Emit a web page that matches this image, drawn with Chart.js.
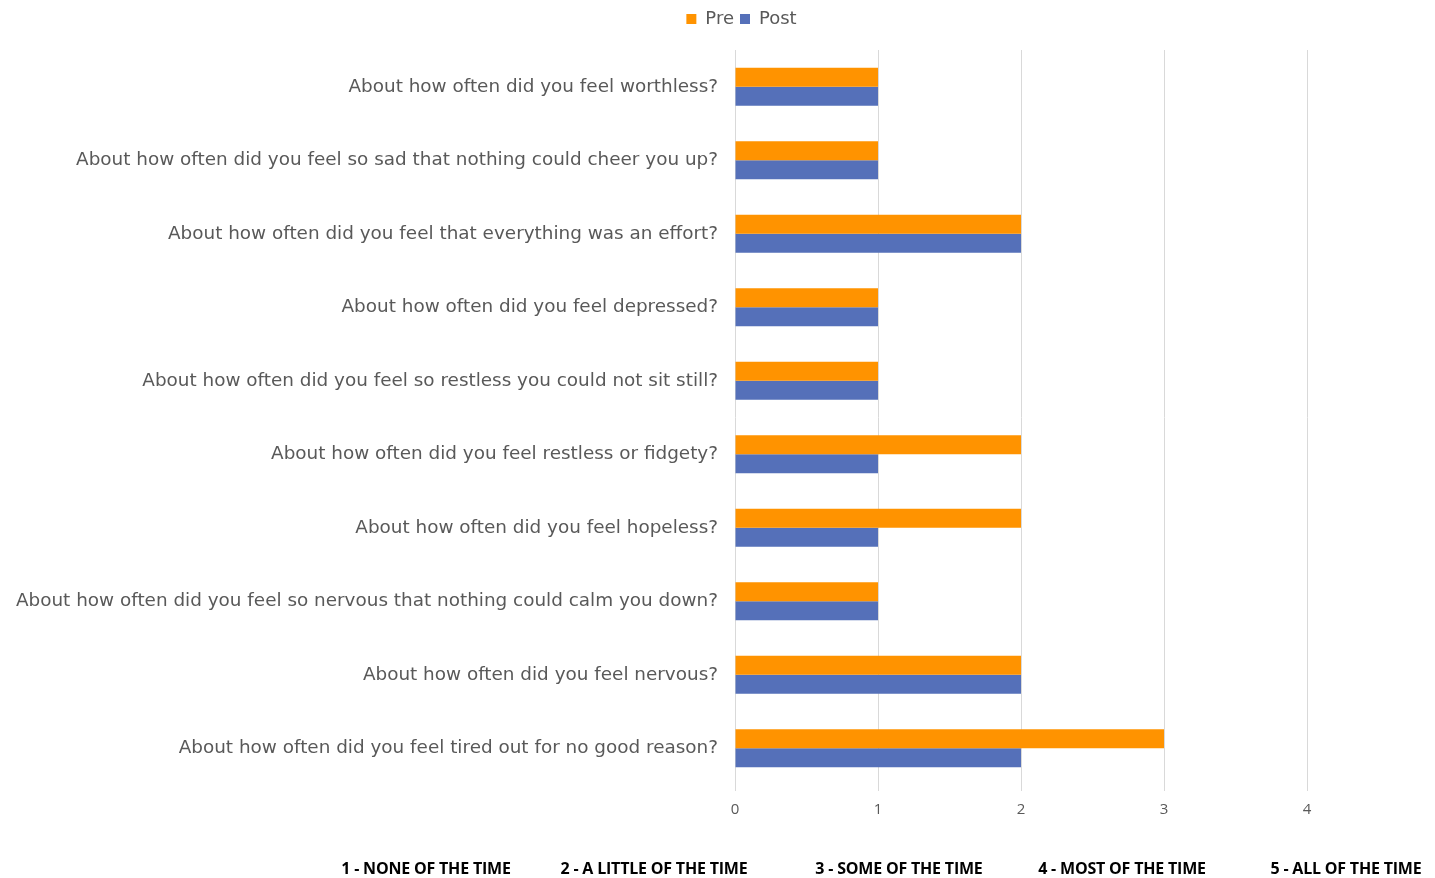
<!DOCTYPE html>
<html>
<head>
<meta charset="utf-8">
<script src="https://cdn.jsdelivr.net/npm/chart.js@4/dist/chart.umd.min.js"></script>
<style>
  html, body { margin: 0; padding: 0; background: #ffffff; }
  #wrap { position: relative; width: 1435px; height: 878px; }
  #c { position: absolute; left: 0; top: 0; }
  #scale-key { position: absolute; left: 0; top: 857px; width: 1435px; height: 21px; }
  #scale-key span {
    position: absolute; transform: translateX(-50%); white-space: nowrap;
    font-family: "Open Sans", sans-serif; font-weight: 700; font-size: 16px; color: #000;
    letter-spacing: -0.2px;
  }
</style>
</head>
<body>
<div id="wrap">
  <canvas id="c" width="1435" height="878"></canvas>
  <div id="scale-key"></div>
</div>
<script>
// Survey items, listed top to bottom
const questions = [
  "About how often did you feel worthless?",
  "About how often did you feel so sad that nothing could cheer you up?",
  "About how often did you feel that everything was an effort?",
  "About how often did you feel depressed?",
  "About how often did you feel so restless you could not sit still?",
  "About how often did you feel restless or fidgety?",
  "About how often did you feel hopeless?",
  "About how often did you feel so nervous that nothing could calm you down?",
  "About how often did you feel nervous?",
  "About how often did you feel tired out for no good reason?"
];
const preScores  = [1, 1, 2, 1, 1, 2, 2, 1, 2, 3];
const postScores = [1, 1, 2, 1, 1, 1, 1, 1, 2, 2];
const xTicks = [0, 1, 2, 3, 4];
const responseScale = [
  "1 - NONE OF THE TIME",
  "2 - A LITTLE OF THE TIME",
  "3 - SOME OF THE TIME",
  "4 - MOST OF THE TIME",
  "5 - ALL OF THE TIME"
];

// Response scale legend along the bottom
const keyCenters = [426, 654, 899, 1122, 1346];
const key = document.getElementById('scale-key');
responseScale.forEach((t, i) => {
  const s = document.createElement('span');
  s.textContent = t;
  s.style.left = keyCenters[i] + 'px';
  key.appendChild(s);
});

const grey = '#595959';

// Extra room under the legend, and the legend centred between
// the label column and the plot's right edge
const legendPlacement = {
  id: 'legendPlacement',
  beforeInit(chart) {
    const fit = chart.legend.fit;
    chart.legend.fit = function () {
      fit.bind(chart.legend)();
      this.height += 12;
    };
  },
  afterLayout(chart) {
    const lg = chart.legend;
    const w = lg.right - lg.left;
    const shift = 176;
    lg.left += shift;
    lg.right = lg.left + w - shift;
  }
};

new Chart(document.getElementById('c'), {
  type: 'bar',
  data: {
    labels: questions,
    datasets: [
      { label: 'Pre',  data: preScores,  backgroundColor: '#ff9300', borderWidth: 0 },
      { label: 'Post', data: postScores, backgroundColor: '#5570b9', borderWidth: 0 }
    ]
  },
  plugins: [legendPlacement],
  options: {
    indexAxis: 'y',
    responsive: false,
    animation: false,
    devicePixelRatio: 1,
    layout: { padding: { top: 4, right: 128, bottom: 49, left: 0 } },
    datasets: { bar: { barPercentage: 1.0, categoryPercentage: 0.52 } },
    plugins: {
      tooltip: { enabled: false },
      legend: {
        position: 'top',
        labels: {
          boxWidth: 10, boxHeight: 10, padding: 6,
          color: grey,
          font: { family: 'DejaVu Sans', size: 18 }
        }
      }
    },
    scales: {
      x: {
        min: 0, max: 4,
        afterBuildTicks: (s) => { s.ticks = xTicks.map(v => ({ value: v })); },
        grid: { color: '#d9d9d9', lineWidth: 1, drawTicks: true, tickLength: 6 },
        border: { display: false },
        ticks: { color: grey, padding: 10, font: { family: 'Open Sans', size: 15 } }
      },
      y: {
        afterFit: (s) => { s.width = 735; },
        grid: { display: false },
        border: { display: false },
        ticks: { color: grey, padding: 9, font: { family: 'DejaVu Sans', size: 18.4 } }
      }
    }
  }
});
</script>
</body>
</html>
